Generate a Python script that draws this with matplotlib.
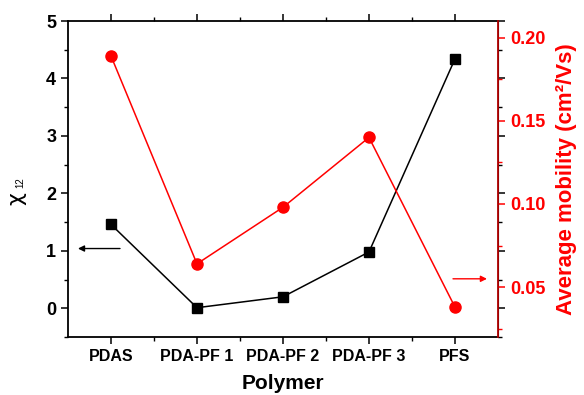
import matplotlib
matplotlib.use('Agg')
import matplotlib.pyplot as plt
from matplotlib.ticker import MultipleLocator, FixedLocator

plt.rcParams['font.family'] = ['Liberation Sans', 'DejaVu Sans']

polymers = ['PDAS', 'PDA-PF 1', 'PDA-PF 2', 'PDA-PF 3', 'PFS']
chi12 = [1.46, 0.01, 0.20, 0.98, 4.34]
mobility = [0.189, 0.064, 0.098, 0.140, 0.038]

red = '#ff0000'
x = list(range(1, len(polymers) + 1))

fig = plt.figure(figsize=(5.84, 3.95), dpi=100)
ax = fig.add_axes([0.1164, 0.1468, 0.7363, 0.8000])
ax2 = ax.twinx()

ax.plot(x, chi12, color='black', lw=1.1, marker='s', ms=7.5, zorder=3)
ax2.plot(x, mobility, color=red, lw=1.1, marker='o', ms=8, zorder=3)

ax.set_xlim(0.5, 5.5)
ax.set_ylim(-0.5, 5)
ax2.set_ylim(0.02, 0.21)

ax.set_xticks(x)
ax.set_xticklabels(polymers)
ax.xaxis.set_minor_locator(FixedLocator([1.5, 2.5, 3.5, 4.5]))
ax.yaxis.set_major_locator(MultipleLocator(1))
ax.yaxis.set_minor_locator(MultipleLocator(0.5))
ax2.set_yticks([0.05, 0.10, 0.15, 0.20])
ax2.set_yticklabels(['0.05', '0.10', '0.15', '0.20'])
ax2.yaxis.set_minor_locator(MultipleLocator(0.025))

for lab in ax.get_xticklabels():
    lab.set_fontsize(11.5)
    lab.set_fontweight('bold')
for lab in ax.get_yticklabels():
    lab.set_fontsize(13)
    lab.set_fontweight('bold')
for lab in ax2.get_yticklabels():
    lab.set_fontsize(13)
    lab.set_fontweight('bold')
    lab.set_color(red)

ax.tick_params(axis='both', which='major', direction='out', length=5, width=1.1)
ax.tick_params(axis='both', which='minor', direction='out', length=3, width=1)
ax.tick_params(axis='x', which='both', top=True)
ax.tick_params(axis='x', which='both', length=2, width=0.8, bottom=False)
ax.tick_params(axis='x', which='major', bottom=True, length=5, width=1.1)
ax.tick_params(axis='x', which='minor', bottom=True, length=3, width=1)
ax.tick_params(axis='y', which='both', right=True)
ax2.tick_params(axis='y', which='major', direction='out', length=5, width=1.1,
                color=red, pad=4)
ax2.tick_params(axis='y', which='minor', direction='out', length=3, width=1,
                color=red)

for s in ['left', 'top', 'bottom']:
    ax.spines[s].set_linewidth(1.3)
ax2.spines['right'].set_color('#b00000')
ax2.spines['right'].set_linewidth(1.3)
for s in ['left', 'top', 'bottom']:
    ax2.spines[s].set_visible(False)

ax.set_xlabel('Polymer', fontsize=15, fontweight='bold', labelpad=7)
ax2.set_ylabel('Average mobility (cm²/Vs)', fontsize=16,
               fontweight='bold', color=red, labelpad=7)

# chi_12 label on the left, small subscript
fig.text(0.028, 0.497, 'χ', fontsize=16, rotation=90, ha='center', va='center',
         family='DejaVu Sans')
fig.text(0.034, 0.537, '12', fontsize=7, rotation=90, ha='center', va='center')

# axis indicator arrows
ax.annotate('', xy=(0.616, 1.04), xytext=(1.105, 1.04),
            arrowprops=dict(arrowstyle='-|>', color='black', lw=1,
                            mutation_scale=9, shrinkA=0, shrinkB=0))
ax2.annotate('', xy=(5.372, 0.055), xytext=(4.977, 0.055),
             arrowprops=dict(arrowstyle='-|>', color=red, lw=1,
                             mutation_scale=9, shrinkA=0, shrinkB=0))

fig.savefig('out.png', dpi=100)
